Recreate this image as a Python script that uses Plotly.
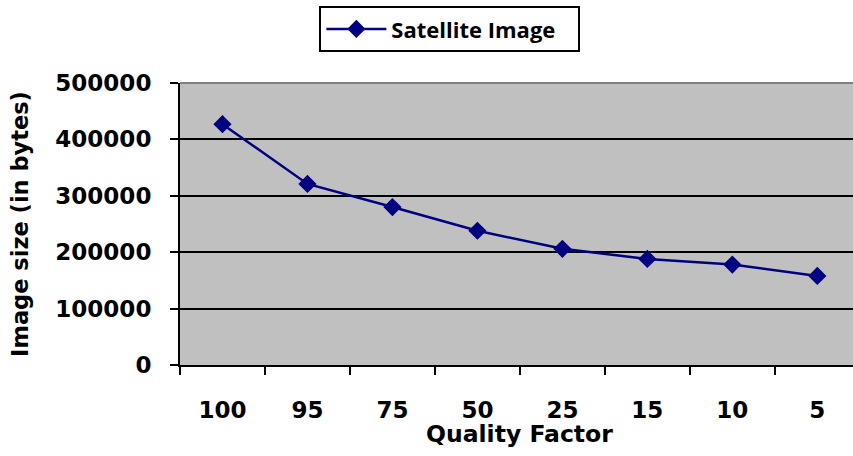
import plotly.graph_objects as go

# JPEG quality factor vs. resulting file size
quality_factor = ["100", "95", "75", "50", "25", "15", "10", "5"]
image_size_bytes = [427000, 321000, 280000, 238000, 206000, 188000, 178000, 158000]
y_ticks = [0, 100000, 200000, 300000, 400000, 500000]

LEGEND_FONT = "Open Sans"
AXIS_FONT = "DejaVu Sans"

fig = go.Figure()
fig.add_trace(go.Scatter(
    x=quality_factor,
    y=image_size_bytes,
    mode="lines+markers",
    name="Satellite Image",
    line=dict(color="#000080", width=2.5),
    marker=dict(symbol="diamond", size=14, color="#000080"),
))

fig.update_layout(
    width=853,
    height=456,
    margin=dict(l=180, r=0, t=83, b=91),
    paper_bgcolor="white",
    plot_bgcolor="#C0C0C0",
    showlegend=True,
    legend=dict(
        x=0.401, y=1.191, xanchor="center", yanchor="middle",
        orientation="h", entrywidth=182, itemwidth=60,
        bordercolor="black", borderwidth=2, bgcolor="white",
        font=dict(family=LEGEND_FONT, size=22, color="black", weight="bold"),
    ),
    xaxis=dict(
        type="category",
        range=[-0.5, 7.42],
        tickson="boundaries",
        ticks="outside", ticklen=8, tickwidth=2, tickcolor="black",
        showline=True, linecolor="black", linewidth=2,
        showgrid=False,
        ticklabelstandoff=23,
        tickfont=dict(family=AXIS_FONT, size=23, color="black", weight="bold"),
    ),
    yaxis=dict(
        range=[0, 500000],
        tickvals=y_ticks,
        tickformat="d",
        ticks="outside", ticklen=8, tickwidth=2, tickcolor="black",
        showline=True, linecolor="black", linewidth=2,
        showgrid=True, gridcolor="black", gridwidth=2,
        zeroline=False,
        ticklabelstandoff=14,
        tickfont=dict(family=AXIS_FONT, size=23, color="black", weight="bold"),
        title=dict(text="Image size (in bytes)", standoff=20,
                   font=dict(family=AXIS_FONT, size=22.5, color="black", weight="bold")),
    ),
)

# x-axis title sits tight under the category labels
fig.add_annotation(text="Quality Factor", xref="paper", yref="paper",
                   x=0.504, y=-0.246, xanchor="center", yanchor="middle",
                   showarrow=False,
                   font=dict(family=AXIS_FONT, size=23.5, color="black", weight="bold"))

# grey top border of the plotting area
fig.add_shape(type="line", xref="paper", yref="paper", x0=0, x1=1, y0=1, y1=1,
              line=dict(color="#808080", width=2))

fig.write_html("out.html")
